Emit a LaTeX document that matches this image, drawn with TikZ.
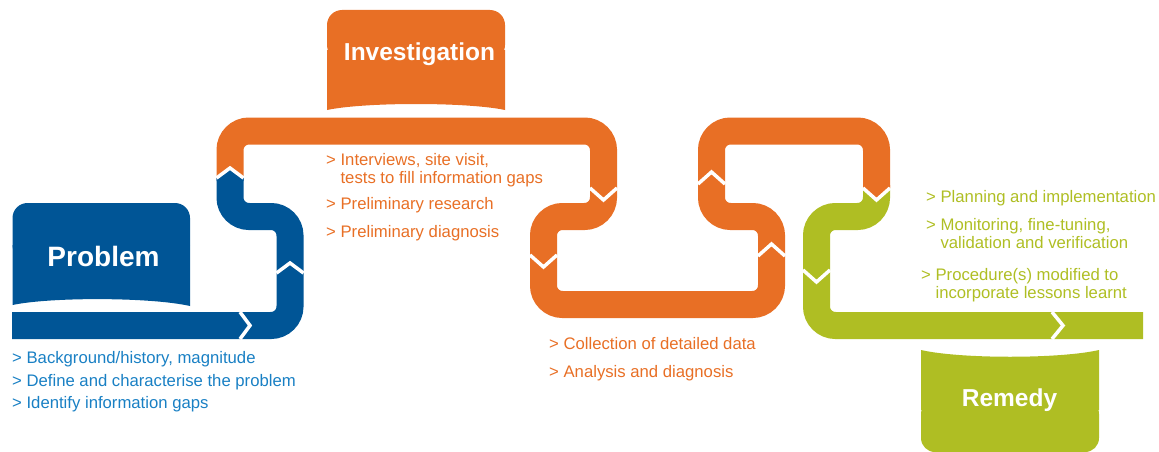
\documentclass[tikz,border=0pt]{standalone}
\usepackage{fontspec}
\setmainfont{Liberation Sans}
\usetikzlibrary{positioning}
\definecolor{pblue}{RGB}{0,85,150}
\definecolor{tblue}{RGB}{25,128,196}
\definecolor{orng}{RGB}{232,111,37}
\definecolor{grn}{RGB}{175,190,35}

\begin{document}
\begin{tikzpicture}[x=1pt,y=-1pt,pipe/.style={line width=27pt,rounded corners=19pt},chev/.style={draw=white,line width=3.5pt},title/.style={text=white,font=\bfseries\fontsize{24.5}{28}\selectfont,inner sep=0pt,anchor=base},item/.style={font=\fontsize{16.7}{18}\selectfont,inner sep=0pt,anchor=base west,align=left}]

\useasboundingbox (0,0) rectangle (1159,452);

\fill[pblue,rounded corners=15pt] (12.5,203) rectangle (190,260);
\fill[pblue] (12.5,245) -- (190,245) -- (190,306) .. controls (150,297) and (50,297) .. (12.5,305) -- cycle;
\fill[orng,rounded corners=15pt] (327,10) rectangle (505,60);
\fill[orng] (327,50) -- (505,50) -- (505,110) .. controls (467,102) and (365,102) .. (327,110) -- cycle;
\fill[grn,rounded corners=14pt] (921,400) rectangle (1099,452);
\fill[grn] (921,350) .. controls (960,359) and (1060,359) .. (1099,350) -- (1099,410) -- (921,410) -- cycle;

\draw[pipe,pblue] (12,325.5) -- (290,325.5) -- (290,216.5) -- (230,216.5) -- (230,178);
\draw[pipe,orng] (230,178) -- (230,131) -- (603.5,131) -- (603.5,216.5) -- (543.5,216.5) -- (543.5,304.5) -- (771.5,304.5) -- (771.5,216.5) -- (711.5,216.5) -- (711.5,131) -- (876.5,131) -- (876.5,188);
\draw[pipe,grn] (876.5,188) -- (876.5,216.5) -- (816.5,216.5) -- (816.5,325.5) -- (1143,325.5);
\fill[pblue] (216.5,181) -- (216.5,178) -- (230,168) -- (243.5,178) -- (243.5,181) -- cycle;
\fill[orng] (863,185) -- (863,188) -- (876.5,200) -- (890,188) -- (890,185) -- cycle;

\draw[chev] (240,312) -- (250,325.5) -- (240,339);
\draw[chev] (276.5,273) -- (290,263) -- (303.5,273);
\draw[chev] (216.5,178) -- (230,168) -- (243.5,178);
\draw[chev] (590,188) -- (603.5,200) -- (617,188);
\draw[chev] (530,255) -- (543.5,267) -- (557,255);
\draw[chev] (758,256) -- (771.5,244) -- (785,256);
\draw[chev] (698,184) -- (711.5,172) -- (725,184);
\draw[chev] (863,188) -- (876.5,200) -- (890,188);
\draw[chev] (803,270) -- (816.5,282) -- (830,270);
\draw[chev] (1052,312) -- (1063,325.5) -- (1052,339);

\node[title,font=\bfseries\fontsize{28}{32}\selectfont] (prob) at (103.5,266) {Problem};
\node[title] (inv) at (419.5,61) {Investigation};
\node[title] (rem) at (1009.5,406) {Remedy};

\node[item,text=tblue] (bg)   at (12,363)                                     {> Background/history, magnitude};
\node[item,text=tblue] (def)  [below=23pt of bg.base west,anchor=base west]   {> Define and characterise the problem};
\node[item,text=tblue] (gaps) [below=22.5pt of def.base west,anchor=base west] {> Identify information gaps};

\node[item,text=orng] (intv)     at (326,183)                                         {> Interviews, site visit,\\\phantom{> }tests to fill information gaps};
\node[item,text=orng] (prelres)  [below=26pt of intv.base west,anchor=base west]    {> Preliminary research};
\node[item,text=orng] (preldiag) [below=28pt of prelres.base west,anchor=base west] {> Preliminary diagnosis};

\node[item,text=orng] (coll) at (549,349)                                      {> Collection of detailed data};
\node[item,text=orng] (anal) [below=28pt of coll.base west,anchor=base west]   {> Analysis and diagnosis};

\node[item,text=grn] (plan)  at (926,202)                                              {> Planning and implementation};
\node[item,text=grn] (monit) [below=46pt of plan.base west,anchor=base west]          {> Monitoring, fine-tuning,\\\phantom{> }validation and verification};
\node[item,text=grn] (proc)  [below=50pt of monit.base west,anchor=base west,xshift=-5pt] {> Procedure(s) modified to\\\phantom{> }incorporate lessons learnt};

\end{tikzpicture}
\end{document}
